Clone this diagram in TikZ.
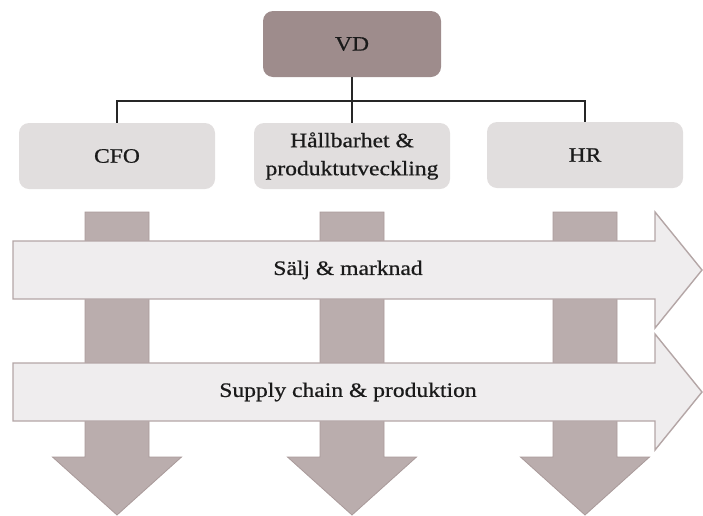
\documentclass[tikz,border=0pt]{standalone}
\usepackage{fontspec}
\setmainfont{Liberation Serif}[FakeStretch=1.15,FakeBold=0.6]
\definecolor{vdfill}{HTML}{9E8C8C}
\definecolor{boxfill}{HTML}{E1DEDE}
\definecolor{downfill}{HTML}{BAADAD}
\definecolor{downline}{HTML}{A99A9A}
\definecolor{bandfill}{HTML}{EFEDEE}
\definecolor{bandline}{HTML}{B4A6A6}
\definecolor{txt}{HTML}{1A1A1A}
\begin{document}
\begin{tikzpicture}[x=1pt,y=-1pt,
  every node/.style={text=txt,font=\fontsize{20.5}{28}\selectfont},
  rolebox/.style={rounded corners=10pt,fill=boxfill,minimum width=196pt,minimum height=66pt,inner sep=0pt,align=center},
  topbox/.style={rolebox,fill=vdfill,minimum width=178pt},
  link/.style={draw=black!85,line width=1.3pt},
  downarrow/.style={fill=downfill,draw=downline,line width=0.8pt},
  band/.style={fill=bandfill,draw=bandline,line width=1.4pt}]
\useasboundingbox (0,0) rectangle (703,515);

% functional columns running downwards
\foreach \cx in {117,352,585}{
  \draw[downarrow] (\cx-32,212) -- (\cx+32,212) -- (\cx+32,457) -- (\cx+64.5,457)
    -- (\cx,515) -- (\cx-64.5,457) -- (\cx-32,457) -- cycle;
}

% cross-functional bands
\draw[band] (13,241) -- (655,241) -- (655,212) -- (702,270) -- (655,328) -- (655,299) -- (13,299) -- cycle;
\draw[band] (13,363) -- (655,363) -- (655,334) -- (702,392) -- (655,450) -- (655,421) -- (13,421) -- cycle;
\node (salj) at (348,270) {Sälj \& marknad};
\node (supply) at (348,392) {Supply chain \& produktion};

% management boxes
\node[topbox] (vd) at (352,44) {VD};
\node[rolebox] (cfo) at (117,156) {CFO};
\node[rolebox] (hall) at (352,156) {Hållbarhet \&\\produktutveckling};
\node[rolebox] (hr) at (585,155) {HR};

% reporting lines
\coordinate (bus) at (352,101);
\draw[link] (vd.south) -- (hall.north);
\draw[link] (cfo.north) |- (bus) -| (hr.north);
\end{tikzpicture}
\end{document}
